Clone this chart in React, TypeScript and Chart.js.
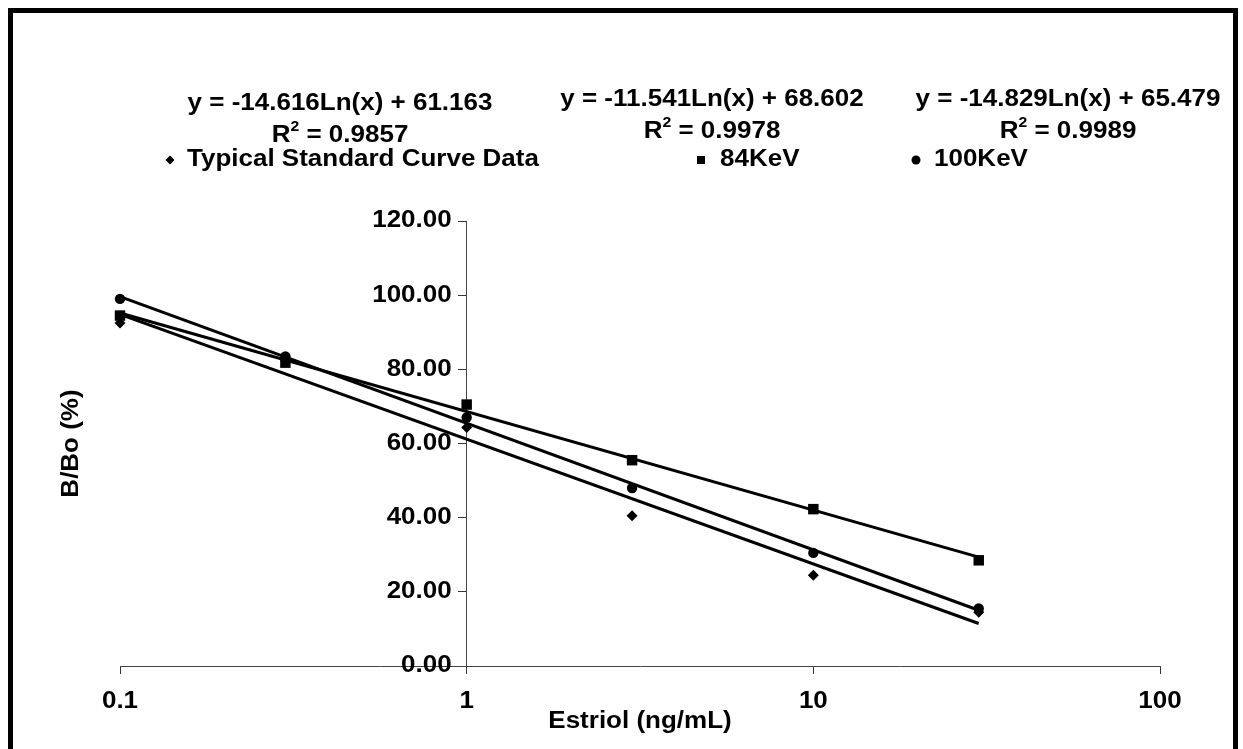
import { useEffect, useRef } from 'react';
import { Chart, registerables } from 'chart.js';

Chart.register(...registerables);

// Estriol concentrations (ng/mL) for every standard
const concentrations = [0.1, 0.3, 1, 3, 10, 30];

// B/Bo (%) for each series
const typicalValues = [92.5, 82.5, 64.3, 40.5, 24.5, 14.5];
const kev84Values = [94.5, 81.8, 70.5, 55.5, 42.3, 28.5];
const kev100Values = [99.0, 83.5, 67.0, 48.0, 30.5, 15.5];

const seriesLabels = ['Typical Standard Curve Data', '84KeV', '100KeV'];
const seriesMarkers = ['diamond', 'square', 'circle'];

// Logarithmic trend lines y = a·Ln(x) + b
const fitSlopes = [-14.616, -11.541, -14.829];
const fitIntercepts = [61.163, 68.602, 65.479];
const fitR2 = ['0.9857', '0.9978', '0.9989'];
const fitRange = [0.1, 30];

// Axes
const xTicks = [0.1, 1, 10, 100];
const yTicks = [0, 20, 40, 60, 80, 100, 120];
const xTitle = 'Estriol (ng/mL)';
const yTitle = 'B/Bo (%)';

const FONT = "'Liberation Sans', Arial, Helvetica, sans-serif";
const TEXT_SIZE = 23;
const TEXT_STRETCH = 1.13; // text is set slightly wide

// Header layout: equation blocks and legend entries
const equationCenters = [
  { x: 340, y: 104 },
  { x: 712, y: 100 },
  { x: 1068, y: 100 },
];
const equationLineGap = 32;
const legendY = 160;
const legendMarkerX = [170, 701, 916];
const legendTextX = [187, 720, 934];

function drawMarker(ctx: CanvasRenderingContext2D, kind: string, x: number, y: number, r: number) {
  ctx.save();
  ctx.fillStyle = '#000';
  ctx.beginPath();
  if (kind === 'diamond') {
    ctx.moveTo(x, y - r);
    ctx.lineTo(x + r, y);
    ctx.lineTo(x, y + r);
    ctx.lineTo(x - r, y);
    ctx.closePath();
  } else if (kind === 'square') {
    ctx.rect(x - r, y - r, 2 * r, 2 * r);
  } else {
    ctx.arc(x, y, r, 0, Math.PI * 2);
  }
  ctx.fill();
  ctx.restore();
}

function drawText(
  ctx: CanvasRenderingContext2D,
  text: string,
  x: number,
  y: number,
  align: CanvasTextAlign,
  rotation = 0,
) {
  ctx.save();
  ctx.translate(x, y);
  if (rotation) ctx.rotate(rotation);
  ctx.scale(TEXT_STRETCH, 1);
  ctx.textAlign = align;
  ctx.textBaseline = 'middle';
  ctx.fillText(text, 0, 0);
  ctx.restore();
}

function equationText(i: number) {
  return `y = ${fitSlopes[i].toFixed(3)}Ln(x) + ${fitIntercepts[i].toFixed(3)}`;
}

const headerPlugin = {
  id: 'headerAndFrame',
  afterDraw(chart: Chart) {
    const ctx = chart.ctx;
    ctx.save();

    // outer frame
    ctx.strokeStyle = '#000';
    ctx.lineWidth = 5;
    ctx.strokeRect(10.5, 10.5, 1225, 800);

    ctx.fillStyle = '#000';
    const bold = `bold ${TEXT_SIZE}px ${FONT}`;
    const sup = `bold ${Math.round(TEXT_SIZE * 0.62)}px ${FONT}`;

    // trend line equations and R² values
    fitSlopes.forEach((_, i) => {
      const c = equationCenters[i];
      ctx.font = bold;
      drawText(ctx, equationText(i), c.x, c.y, 'center');

      const ry = c.y + equationLineGap;
      const rest = ` = ${fitR2[i]}`;
      ctx.font = bold;
      const wR = ctx.measureText('R').width * TEXT_STRETCH;
      const wRest = ctx.measureText(rest).width * TEXT_STRETCH;
      ctx.font = sup;
      const wSup = ctx.measureText('2').width * TEXT_STRETCH;
      let x = c.x - (wR + wSup + wRest) / 2;
      ctx.font = bold;
      drawText(ctx, 'R', x, ry, 'left');
      x += wR;
      ctx.font = sup;
      drawText(ctx, '2', x, ry - TEXT_SIZE * 0.38, 'left');
      x += wSup;
      ctx.font = bold;
      drawText(ctx, rest, x, ry, 'left');
    });

    // legend
    seriesLabels.forEach((label, i) => {
      const kind = seriesMarkers[i];
      const r = kind === 'diamond' ? 4.5 : kind === 'square' ? 4 : 4.5;
      drawMarker(ctx, kind, legendMarkerX[i], legendY, r);
      ctx.font = bold;
      drawText(ctx, label, legendTextX[i], legendY, 'left');
    });

    // tick labels of both axes
    const yScale = chart.scales.y;
    const xScale = chart.scales.x;
    const axisX = xScale.getPixelForValue(1);
    ctx.font = bold;
    yTicks.forEach((v) => {
      drawText(ctx, v.toFixed(2), axisX - 8 - 7, yScale.getPixelForValue(v), 'right');
    });
    xTicks.forEach((v) => {
      drawText(ctx, String(v), xScale.getPixelForValue(v), chart.chartArea.bottom + 36, 'center');
    });

    // axis titles
    const area = chart.chartArea;
    drawText(ctx, xTitle, (area.left + area.right) / 2, 722, 'center');
    drawText(ctx, yTitle, 72, (area.top + area.bottom) / 2, 'center', -Math.PI / 2);

    ctx.restore();
  },
};

function pointsOf(values: number[]) {
  return concentrations.map((x, i) => ({ x, y: values[i] }));
}

export default function App() {
  const canvasRef = useRef<HTMLCanvasElement | null>(null);

  useEffect(() => {
    const canvas = canvasRef.current;
    if (!canvas) return;

    const trendLines = fitSlopes.map((a, i) => ({
      type: 'line' as const,
      label: `${seriesLabels[i]} trend`,
      data: fitRange.map((x) => ({ x, y: a * Math.log(x) + fitIntercepts[i] })),
      borderColor: '#000',
      borderWidth: 3,
      pointRadius: 0,
      fill: false,
      tension: 0,
      clip: false as const,
      order: 2,
    }));

    const markerSeries = [
      { values: typicalValues, style: 'rectRot', radius: 5.5 },
      { values: kev84Values, style: 'rect', radius: 7.4 },
      { values: kev100Values, style: 'circle', radius: 5.2 },
    ].map((s, i) => ({
      type: 'scatter' as const,
      label: seriesLabels[i],
      data: pointsOf(s.values),
      pointStyle: s.style,
      pointRadius: s.radius,
      pointBorderWidth: 0,
      backgroundColor: '#000',
      borderColor: '#000',
      clip: false as const,
      order: 1,
    }));

    const chart = new Chart(canvas, {
      type: 'scatter',
      data: { datasets: [...trendLines, ...markerSeries] as any },
      options: {
        responsive: false,
        animation: false,
        layout: { padding: { left: 120, right: 83, top: 221, bottom: 0 } },
        plugins: { legend: { display: false }, tooltip: { enabled: false } },
        scales: {
          x: {
            type: 'logarithmic',
            position: 'bottom',
            min: 0.1,
            max: 100,
            afterBuildTicks: (scale: any) => {
              scale.ticks = xTicks.map((value) => ({ value }));
            },
            afterFit: (scale: any) => {
              scale.height = 83;
            },
            grid: { drawOnChartArea: false, drawTicks: true, tickLength: 8, color: '#333' },
            border: { display: true, color: '#444', width: 1 },
            ticks: { display: false },
          },
          y: {
            type: 'linear',
            position: { x: 1 } as any,
            min: 0,
            max: 120,
            afterBuildTicks: (scale: any) => {
              scale.ticks = yTicks.map((value) => ({ value }));
            },
            grid: { drawOnChartArea: false, drawTicks: true, tickLength: 8, color: '#333' },
            border: { display: true, color: '#444', width: 1 },
            ticks: { display: false },
          },
        },
      },
      plugins: [headerPlugin],
    });

    return () => chart.destroy();
  }, []);

  return (
    <canvas
      ref={canvasRef}
      width={1243}
      height={749}
      style={{ position: 'fixed', left: 0, top: 0, display: 'block', background: '#fff' }}
    />
  );
}
